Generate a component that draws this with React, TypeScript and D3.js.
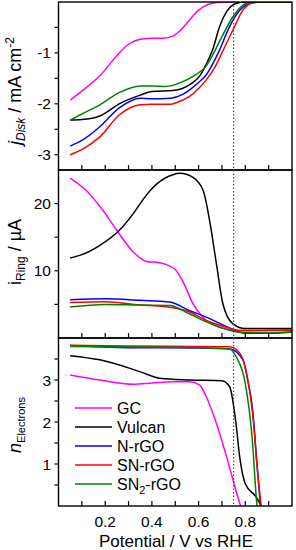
import React from "react";
import * as d3 from "d3";

type Pt = [number, number];

// Disk current density (mA cm^-2)
const diskGC: Pt[] = [[0.05,-1.93],[0.1,-1.75],[0.177,-1.45],[0.26,-1.0],[0.3,-0.83],[0.35,-0.73],[0.4,-0.71],[0.45,-0.71],[0.49,-0.67],[0.53,-0.52],[0.56,-0.36],[0.6,-0.16],[0.64,-0.05],[0.68,-0.01],[0.75,0],[1.0,0]];
const diskVulcan: Pt[] = [[0.05,-2.32],[0.1,-2.31],[0.177,-2.24],[0.26,-2.0],[0.35,-1.83],[0.4,-1.76],[0.49,-1.74],[0.53,-1.7],[0.57,-1.6],[0.605,-1.45],[0.635,-1.2],[0.66,-0.94],[0.69,-0.48],[0.72,-0.19],[0.76,-0.03],[0.8,0],[1.0,0]];
const diskNrGO: Pt[] = [[0.05,-2.83],[0.1,-2.72],[0.177,-2.45],[0.26,-2.08],[0.35,-1.89],[0.4,-1.9],[0.48,-1.89],[0.53,-1.82],[0.56,-1.73],[0.6,-1.58],[0.633,-1.43],[0.66,-1.22],[0.69,-0.94],[0.733,-0.48],[0.776,-0.16],[0.82,-0.03],[0.86,0],[1.0,0]];
const diskSNrGO: Pt[] = [[0.05,-3.0],[0.1,-2.9],[0.177,-2.65],[0.26,-2.22],[0.35,-2.02],[0.4,-2.01],[0.476,-2.01],[0.52,-1.95],[0.56,-1.86],[0.6,-1.7],[0.633,-1.53],[0.67,-1.28],[0.7,-1.0],[0.747,-0.55],[0.79,-0.16],[0.83,-0.02],[0.87,0],[1.0,0]];
const diskSN2rGO: Pt[] = [[0.05,-2.32],[0.1,-2.2],[0.177,-2.02],[0.26,-1.78],[0.35,-1.65],[0.4,-1.65],[0.46,-1.66],[0.53,-1.57],[0.58,-1.45],[0.63,-1.27],[0.665,-1.0],[0.7,-0.68],[0.747,-0.29],[0.79,-0.06],[0.83,0],[1.0,0]];

// Ring current (µA)
const ringGC: Pt[] = [[0.05,23.8],[0.12,21.9],[0.19,19.0],[0.25,16.0],[0.32,12.8],[0.377,11.4],[0.434,11.2],[0.47,10.8],[0.5,10.2],[0.53,8.6],[0.576,5.1],[0.633,2.6],[0.69,1.6],[0.776,1.1],[0.9,1.15],[1.0,1.2]];
const ringVulcan: Pt[] = [[0.05,11.9],[0.1,12.4],[0.177,13.8],[0.26,16.0],[0.32,18.5],[0.35,20.0],[0.377,21.3],[0.42,22.9],[0.49,24.3],[0.52,24.5],[0.576,23.9],[0.62,21.9],[0.647,17.5],[0.676,11.1],[0.704,5.1],[0.747,2.1],[0.8,1.4],[1.0,1.4]];
const ringNrGO: Pt[] = [[0.05,5.7],[0.2,5.85],[0.35,5.6],[0.476,5.35],[0.56,4.1],[0.633,3.1],[0.72,1.7],[0.8,0.7],[0.9,0.7],[1.0,0.9]];
const ringSNrGO: Pt[] = [[0.05,5.3],[0.2,5.4],[0.35,4.9],[0.45,4.7],[0.56,3.9],[0.633,2.6],[0.72,1.6],[0.776,1.1],[1.0,1.1]];
const ringSN2rGO: Pt[] = [[0.05,4.6],[0.2,5.0],[0.35,4.9],[0.476,4.85],[0.56,3.6],[0.633,2.4],[0.72,1.25],[0.776,0.85],[0.9,0.75],[1.0,0.85]];

// Number of electrons
const nGC: Pt[] = [[0.05,3.12],[0.177,3.0],[0.32,2.9],[0.4,2.93],[0.49,2.96],[0.56,2.96],[0.605,2.88],[0.633,2.6],[0.676,1.97],[0.72,1.17],[0.76,0.37],[0.78,0.0]];
const nVulcan: Pt[] = [[0.05,3.58],[0.177,3.48],[0.348,3.2],[0.434,3.04],[0.56,3.0],[0.7,2.98],[0.733,2.84],[0.76,1.97],[0.776,1.17],[0.8,0.53],[0.847,0.21],[0.868,0.0]];
const nNrGO: Pt[] = [[0.05,3.82],[0.3,3.77],[0.6,3.76],[0.733,3.74],[0.79,3.48],[0.81,3.0],[0.83,2.36],[0.853,0.78],[0.865,0.0]];
const nSNrGO: Pt[] = [[0.05,3.83],[0.3,3.81],[0.6,3.8],[0.733,3.79],[0.776,3.64],[0.8,3.3],[0.818,2.76],[0.835,2.0],[0.847,1.17],[0.86,0.4],[0.868,0.0]];
const nSN2rGO: Pt[] = [[0.05,3.8],[0.5,3.78],[0.733,3.74],[0.76,3.56],[0.8,2.92],[0.83,1.57],[0.847,0.2],[0.85,0.0]];

const seriesNames = ["GC", "Vulcan", "N-rGO", "SN-rGO", "SN2-rGO"];
const seriesColors = ["#ff00ff", "#000000", "#0000ff", "#ff0000", "#008000"];
const xTicks = [0.1, 0.2, 0.3, 0.4, 0.5, 0.6, 0.7, 0.8, 0.9];
const xTickLabels = [0.2, 0.4, 0.6, 0.8];
const onsetLine = 0.75;

const W = 296;
const H = 550;
const left = 58.5;
const right = 292;
const font = "'Liberation Sans', Arial, sans-serif";

const panels = [
  { top: 2, bottom: 170, domain: [-3.3, 0], data: [diskGC, diskVulcan, diskNrGO, diskSNrGO, diskSN2rGO], ticks: [-3, -2.5, -2, -1.5, -1, -0.5], labels: [-1, -2, -3] },
  { top: 170, bottom: 338, domain: [0, 25], data: [ringGC, ringVulcan, ringNrGO, ringSNrGO, ringSN2rGO], ticks: [5, 10, 15, 20], labels: [10, 20] },
  { top: 338, bottom: 506, domain: [0, 4], data: [nGC, nVulcan, nNrGO, nSNrGO, nSN2rGO], ticks: [0.5, 1, 1.5, 2, 2.5, 3, 3.5], labels: [1, 2, 3] },
];

export default function App() {
  const x = d3.scaleLinear().domain([0, 1]).range([left, right]);
  const fmt = d3.format(".1f");

  return (
    <svg width={W} height={H} style={{ position: "absolute", left: 0, top: 0, background: "#fff" }} fontFamily={font}>
      <defs>
        {panels.map((p, i) => (
          <clipPath id={`clip${i}`} key={i}>
            <rect x={left} y={p.top} width={right - left} height={p.bottom - p.top} />
          </clipPath>
        ))}
      </defs>
      {panels.map((p, i) => {
        const y = d3.scaleLinear().domain(p.domain).range([p.bottom, p.top]);
        const line = d3.line<Pt>().x(d => x(d[0])).y(d => y(d[1])).curve(d3.curveMonotoneX);
        return (
          <g key={i}>
            <g clipPath={`url(#clip${i})`}>
              {p.data.map((s, j) => (
                <path key={j} d={line(s) || ""} fill="none" stroke={seriesColors[j]} strokeWidth={1.5} />
              ))}
            </g>
            <rect x={left} y={p.top} width={right - left} height={p.bottom - p.top} fill="none" stroke="#000" strokeWidth={1.4} />
            {xTicks.map(t => (
              <line key={t} x1={x(t)} x2={x(t)} y1={p.bottom} y2={p.bottom - 5} stroke="#000" strokeWidth={1.2} />
            ))}
            {p.ticks.map(t => (
              <line key={t} x1={left} x2={left - 4} y1={y(t)} y2={y(t)} stroke="#000" strokeWidth={1.2} />
            ))}
            {p.labels.map(t => (
              <text key={t} x={51} y={y(t)} dy="0.36em" textAnchor="end" fontSize={15.5}>{t}</text>
            ))}
          </g>
        );
      })}
      <line x1={x(onsetLine)} x2={x(onsetLine)} y1={2} y2={506} stroke="#444" strokeWidth={1.1} strokeDasharray="1.5,2" />
      {xTickLabels.map(t => (
        <text key={t} x={x(t)} y={527} textAnchor="middle" fontSize={15.5}>{fmt(t)}</text>
      ))}
      <text x={176} y={547} textAnchor="middle" fontSize={17}>Potential / V vs RHE</text>

      <text transform="translate(21,91) rotate(-90)" textAnchor="middle" fontSize={18}>
        <tspan fontStyle="italic">j</tspan>
        <tspan fontStyle="italic" fontSize={12} dy={4}>Disk</tspan>
        <tspan dy={-4}> / mA cm</tspan>
        <tspan fontSize={12} dy={-7}>-2</tspan>
      </text>
      <text transform="translate(21,252) rotate(-90)" textAnchor="middle" fontSize={18}>
        <tspan>i</tspan>
        <tspan fontSize={12} dy={4}>Ring</tspan>
        <tspan dy={-4}> / µA</tspan>
      </text>
      <text transform="translate(21,425) rotate(-90)" textAnchor="middle" fontSize={18}>
        <tspan fontStyle="italic">n</tspan>
        <tspan fontSize={11} dy={4}>Electrons</tspan>
      </text>

      {seriesNames.map((name, i) => {
        const ly = 408 + i * 19;
        return (
          <g key={name}>
            <line x1={75} x2={112} y1={ly} y2={ly} stroke={seriesColors[i]} strokeWidth={1.5} />
            <text x={117} y={ly} dy="0.36em" fontSize={16}>
              {name === "SN2-rGO" ? (
                <>
                  SN<tspan fontSize={11} dy={4}>2</tspan><tspan dy={-4}>-rGO</tspan>
                </>
              ) : name}
            </text>
          </g>
        );
      })}
    </svg>
  );
}
